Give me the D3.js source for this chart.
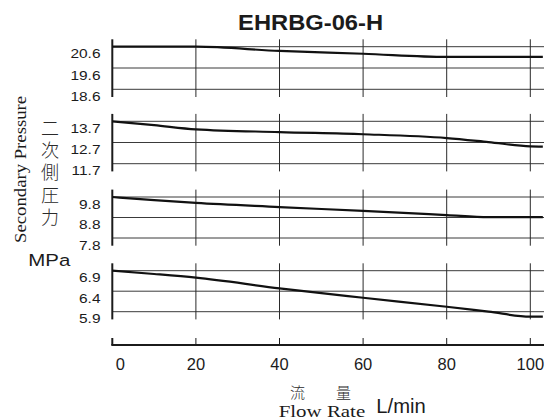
<!DOCTYPE html>
<html>
<head>
<meta charset="utf-8">
<script src="https://cdn.jsdelivr.net/npm/d3@7"></script>
<style>
  html, body { margin: 0; padding: 0; background: #fff; }
  svg { display: block; }
</style>
</head>
<body>
<svg id="chart" width="547" height="420"></svg>
<script>
// ---- data ----
const title = "EHRBG-06-H";
const flowRates = [0, 10, 20, 40, 60, 80, 90, 100, 103];
const pressureA = [20.6, 20.6, 20.6, 20.40, 20.27, 20.12, 20.12, 20.12, 20.12];
const pressureB = [13.7, 13.52, 13.32, 13.19, 13.09, 12.91, 12.72, 12.52, 12.51];
const pressureC = [9.8, 9.65, 9.51, 9.31, 9.12, 8.92, 8.82, 8.82, 8.82];
const pressureD = [6.9, 6.82, 6.73, 6.47, 6.24, 6.02, 5.90, 5.78, 5.78];
const ticksA = ["20.6", "19.6", "18.6"];
const ticksB = ["13.7", "12.7", "11.7"];
const ticksC = ["9.8", "8.8", "7.8"];
const ticksD = ["6.9", "6.4", "5.9"];
const xTicks = [0, 20, 40, 60, 80, 100];
const yLabelEn = "Secondary Pressure";
const yLabelJa = "二次側圧力";
const yUnit = "MPa";
const xLabelJa = "流\u3000量";
const xLabelEn = "Flow Rate";
const xUnit = "L/min";

// ---- layout ----
const svg = d3.select("#chart");
const ink = "#1b1b1b";
const sans = "'Liberation Sans', Arial, Helvetica, sans-serif";
const serif = "'Liberation Serif', 'Times New Roman', serif";
const cjk = "'Noto Sans CJK JP', sans-serif";

const x = d3.scaleLinear().domain([0, 100]).range([112.3, 530.3]);
const xEnd = 544;

const panels = [
  { values: pressureA, ticks: ticksA, top: 46.7, bottom: 89.3 },
  { values: pressureB, ticks: ticksB, top: 121.3, bottom: 163.7 },
  { values: pressureC, ticks: ticksC, top: 197, bottom: 238 },
  { values: pressureD, ticks: ticksD, top: 270.7, bottom: 311.7 }
];

panels.forEach(p => {
  const tv = p.ticks.map(Number);
  const y = d3.scaleLinear().domain([d3.min(tv), d3.max(tv)]).range([p.bottom, p.top]);
  const g = svg.append("g");
  const y0 = p.top - 7.4, y1 = p.bottom + 7.7;

  // horizontal gridlines
  g.selectAll("line.h").data(tv).enter().append("line")
    .attr("x1", x(0)).attr("x2", xEnd)
    .attr("y1", d => y(d)).attr("y2", d => y(d))
    .attr("stroke", "#3a3a3a").attr("stroke-width", 1);

  // vertical gridlines
  g.selectAll("line.v").data(xTicks.slice(1)).enter().append("line")
    .attr("x1", d => x(d)).attr("x2", d => x(d))
    .attr("y1", y0).attr("y2", y1)
    .attr("stroke", "#2a2a2a").attr("stroke-width", 1);

  // left axis
  g.append("line")
    .attr("x1", x(0)).attr("x2", x(0)).attr("y1", y0).attr("y2", y1)
    .attr("stroke", ink).attr("stroke-width", 2);

  // tick labels
  g.selectAll("text.t").data(p.ticks).enter().append("text")
    .attr("transform", d => `translate(100.5,${y(+d) + 7}) scale(1.19,1)`)
    .attr("text-anchor", "end")
    .attr("dominant-baseline", "central")
    .attr("font-family", sans).attr("font-size", 13)
    .attr("fill", ink)
    .text(d => d);

  // curve
  const line = d3.line()
    .x((d, i) => x(flowRates[i]))
    .y(d => y(d))
    .curve(d3.curveMonotoneX);
  g.append("path")
    .datum(p.values)
    .attr("d", line)
    .attr("fill", "none")
    .attr("stroke", "#111")
    .attr("stroke-width", 2.2);
});

// bottom x axis
const axisY = 345;
svg.append("line")
  .attr("x1", x(0) - 1).attr("x2", xEnd).attr("y1", axisY).attr("y2", axisY)
  .attr("stroke", ink).attr("stroke-width", 2);
svg.selectAll("line.xt").data(xTicks).enter().append("line")
  .attr("x1", d => x(d)).attr("x2", d => x(d))
  .attr("y1", axisY - 7).attr("y2", axisY)
  .attr("stroke", ink).attr("stroke-width", d => d === 0 ? 2 : 1);
svg.selectAll("text.xt").data(xTicks).enter().append("text")
  .attr("x", d => x(d) + (d === 0 ? 8 : 0))
  .attr("y", 370)
  .attr("text-anchor", "middle")
  .attr("font-family", sans).attr("font-size", 16.5)
  .attr("fill", ink)
  .text(d => d);

// title
svg.append("text")
  .attr("x", 310.6).attr("y", 29.6)
  .attr("text-anchor", "middle")
  .attr("font-family", sans).attr("font-weight", "bold").attr("font-size", 22)
  .attr("textLength", 145).attr("lengthAdjust", "spacingAndGlyphs")
  .attr("fill", ink)
  .text(title);

// y label (English, rotated)
svg.append("text")
  .attr("transform", "translate(26,169.4) rotate(-90)")
  .attr("text-anchor", "middle")
  .attr("font-family", serif).attr("font-size", 16.6)
  .attr("textLength", 147).attr("lengthAdjust", "spacingAndGlyphs")
  .attr("fill", ink)
  .text(yLabelEn);

// y label (Japanese, vertical writing)
svg.append("text")
  .attr("x", 50).attr("y", 119)
  .style("writing-mode", "vertical-rl")
  .style("letter-spacing", "4.25px")
  .attr("font-family", cjk).attr("font-size", 18).attr("font-weight", 300)
  .attr("fill", "#2a2a2a")
  .text(yLabelJa);

// unit MPa
svg.append("text")
  .attr("x", 28.3).attr("y", 266)
  .attr("font-family", sans).attr("font-size", 16.3)
  .attr("textLength", 42).attr("lengthAdjust", "spacingAndGlyphs")
  .attr("fill", ink)
  .text(yUnit);

// x label
svg.append("text")
  .attr("x", 320.6).attr("y", 397.5)
  .attr("text-anchor", "middle")
  .attr("font-family", cjk).attr("font-size", 15).attr("font-weight", 300)
  .attr("textLength", 61).attr("lengthAdjust", "spacing")
  .attr("fill", "#2a2a2a")
  .text(xLabelJa);
svg.append("text")
  .attr("x", 278.7).attr("y", 416.5)
  .attr("font-family", serif).attr("font-size", 16)
  .attr("textLength", 86.5).attr("lengthAdjust", "spacingAndGlyphs")
  .attr("fill", ink)
  .text(xLabelEn);
svg.append("text")
  .attr("x", 376.3).attr("y", 413)
  .attr("font-family", sans).attr("font-size", 20.5)
  .attr("textLength", 49.5).attr("lengthAdjust", "spacingAndGlyphs")
  .attr("fill", ink)
  .text(xUnit);
</script>
</body>
</html>
